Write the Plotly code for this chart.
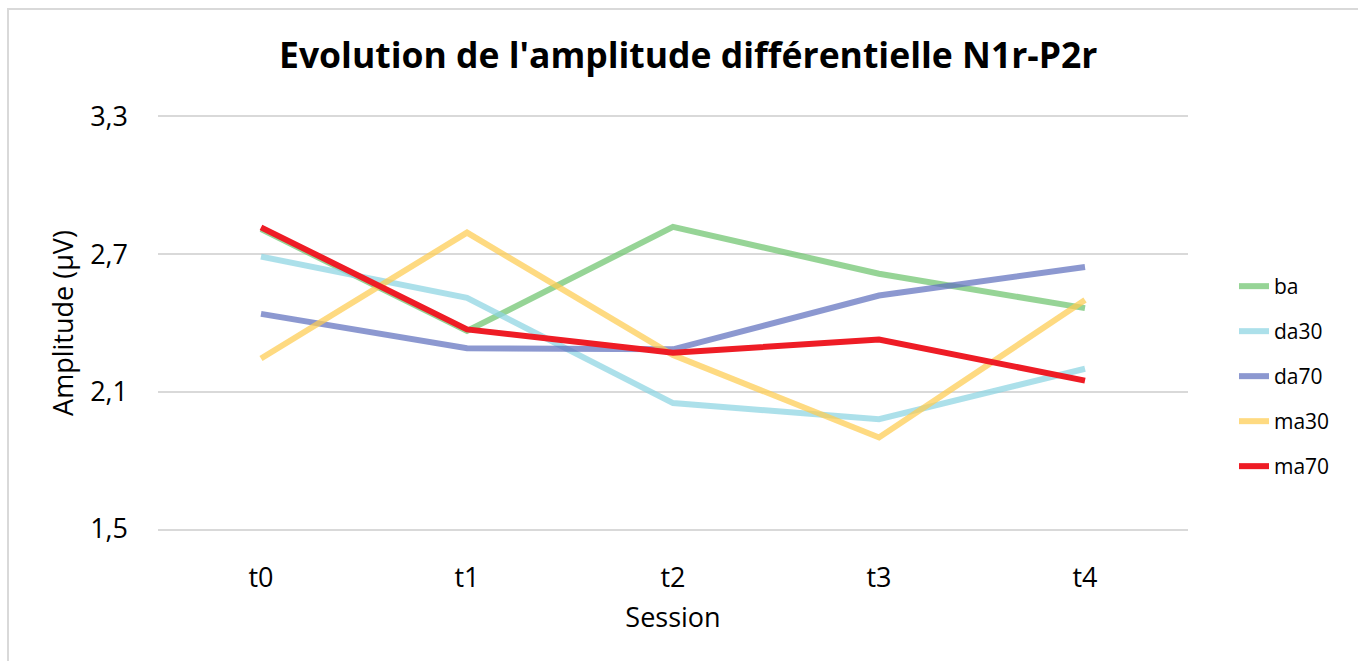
import plotly.graph_objects as go

sessions = ["t0", "t1", "t2", "t3", "t4"]
ba = [2.81, 2.365, 2.82, 2.615, 2.465]
da30 = [2.69, 2.51, 2.05, 1.98, 2.20]
da70 = [2.44, 2.29, 2.285, 2.52, 2.645]
ma30 = [2.245, 2.795, 2.26, 1.90, 2.50]
ma70 = [2.818, 2.372, 2.27, 2.328, 2.148]

series = [
    ("ba", ba, "rgba(110,196,110,0.72)", 6),
    ("da30", da30, "rgba(140,212,226,0.72)", 6),
    ("da70", da70, "rgba(95,112,190,0.72)", 6),
    ("ma30", ma30, "rgba(253,204,80,0.72)", 6),
    ("ma70", ma70, "#ee1c25", 6),
]

fig = go.Figure()
for name, vals, color, w in series:
    fig.add_trace(go.Scatter(
        x=sessions, y=vals, mode="lines", name=name,
        legendgroup=name,
        line=dict(color=color, width=w),
    ))

font_family = "Open Sans, Lato, sans-serif"
L, R, T, B = 158, 170, 117, 132
W, H = 1358, 661
pw, ph = W - L - R, H - T - B

def px_x(px):
    return (px - L) / pw

def px_y(py):
    return (H - B - py) / ph

fig.update_layout(
    width=W, height=H,
    margin=dict(l=L, r=R, t=T, b=B),
    paper_bgcolor="white", plot_bgcolor="white",
    font=dict(family=font_family, color="#000000"),
    showlegend=True,
    legend=dict(
        x=px_x(1234), y=px_y(266), xanchor="left", yanchor="top",
        font=dict(size=21, family=font_family, color="#000000"),
        tracegroupgap=14.7, bgcolor="rgba(0,0,0,0)",
    ),
    xaxis=dict(
        range=[-0.5, 4.5], showgrid=False, zeroline=False,
        showline=True, mirror=True, linecolor="#d9d9d9", linewidth=2,
        ticks="", ticklabelstandoff=24,
        tickfont=dict(size=27, family=font_family),
        title=dict(text="Session", font=dict(size=27, family=font_family), standoff=14),
    ),
    yaxis=dict(
        range=[1.5, 3.3], tickvals=[1.5, 2.1, 2.7, 3.3],
        ticktext=["1,5", "2,1", "2,7", "3,3"],
        showgrid=True, gridcolor="#d9d9d9", gridwidth=2,
        zeroline=False, showline=False, ticks="",
        tickfont=dict(size=27, family=font_family),
        ticklabelstandoff=29,
        title=dict(text="Amplitude (µV)", font=dict(size=27, family=font_family), standoff=8),
    ),
    annotations=[dict(
        text="<b>Evolution de l'amplitude différentielle N1r-P2r</b>",
        x=px_x(688), y=px_y(54), xref="paper", yref="paper",
        xanchor="center", yanchor="middle", showarrow=False,
        font=dict(size=35.5, family=font_family, color="#000000"),
    )],
    shapes=[dict(
        type="rect", xref="paper", yref="paper",
        x0=px_x(8), x1=px_x(1400), y0=px_y(700), y1=px_y(9),
        line=dict(color="#d9d9d9", width=2), layer="below",
    )],
)

fig.write_html("out.html")
